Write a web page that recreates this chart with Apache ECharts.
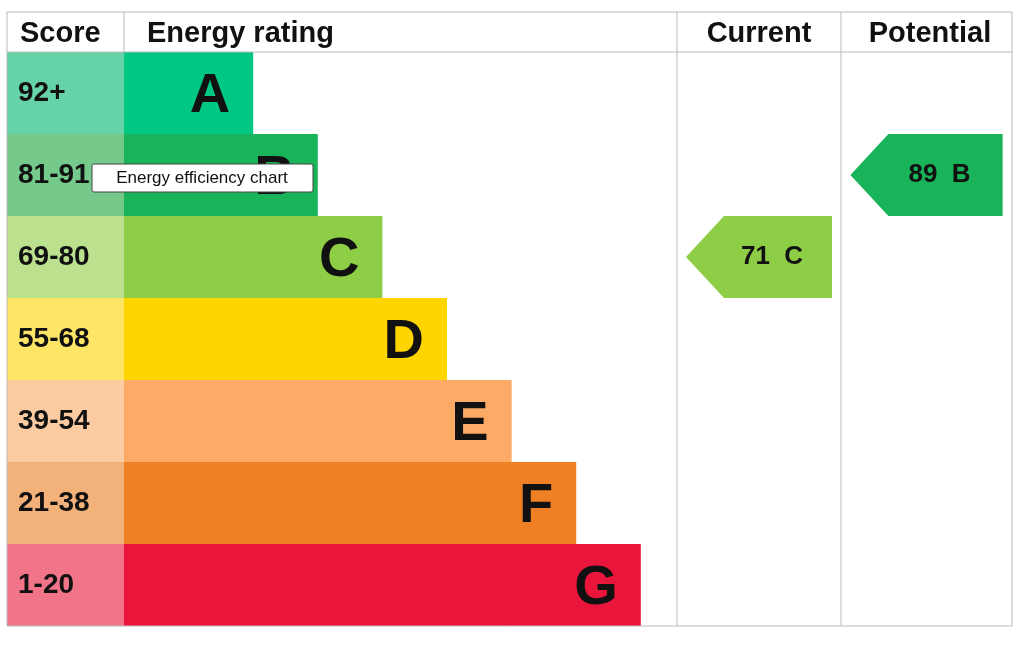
<!DOCTYPE html>
<html><head><meta charset="utf-8">
<script src="https://cdn.jsdelivr.net/npm/echarts@6/dist/echarts.min.js"></script>
<style>html,body{margin:0;padding:0;background:#fff}#c{width:1024px;height:648px}</style>
</head><body><div id="c"></div>
<script>
const bands = ['A','B','C','D','E','F','G'];
const scoreRanges = ['92+','81-91','69-80','55-68','39-54','21-38','1-20'];
const barUnits = [2,3,4,5,6,7,8];
const bandColors = ['#00c781','#19b459','#8dce46','#ffd500','#fcaa65','#ef8023','#e9153b'];
const scoreColors = ['#66d2a8','#75c98b','#bbe18f','#ffe566','#fdcba1','#f3b27a','#f27489'];
const currentScore = 71, currentBand = 'C';
const potentialScore = 89, potentialBand = 'B';

const chart = echarts.init(document.getElementById('c'));
const T=52,H=574;
const grids=[{left:7,top:T,width:117,height:H},{left:124,top:T,width:553,height:H},{left:677,top:T,width:164,height:H},{left:841,top:T,width:171,height:H}];
const xA=grids.map((g,i)=>({gridIndex:i,type:'value',min:0,max:i===1?8.56:1,show:false}));
const yA=grids.map((g,i)=>({gridIndex:i,type:'category',data:bands,inverse:true,show:false}));
function arrow(color){
  return function(params,api){
    const row=api.value(0);
    const cs=params.coordSys;
    const yc=api.coord([0,row])[1], h=api.size([0,1])[1];
    const x0=cs.x+cs.width*0.055, x1=cs.x+cs.width*0.945, tip=38;
    return {type:'group',children:[
      {type:'polygon',shape:{points:[[x0,yc],[x0+tip,yc-h/2],[x1,yc-h/2],[x1,yc+h/2],[x0+tip,yc+h/2]]},style:{fill:color}},
      {type:'text',style:{text:api.value(1)+'  '+api.value(2),x:(x0+tip+x1)/2-6,y:yc,align:'center',verticalAlign:'middle',font:'bold 26px Liberation Sans, Arial',fill:'#111'}}
    ]};
  };
}
const bi=b=>bands.indexOf(b);
chart.setOption({
  animation:false,
  grid:grids,xAxis:xA,yAxis:yA,
  series:[
    {type:'bar',xAxisIndex:0,yAxisIndex:0,barWidth:'100%',data:scoreRanges.map((s,i)=>({value:1,itemStyle:{color:scoreColors[i]},label:{show:true,position:'insideLeft',offset:[6,0],formatter:s,fontSize:28,fontWeight:'bold',color:'#111',fontFamily:'Liberation Sans, Arial'}}))},
    {type:'bar',xAxisIndex:1,yAxisIndex:1,barWidth:'100%',data:barUnits.map((u,i)=>({value:u,itemStyle:{color:bandColors[i]},label:{show:true,position:'insideRight',offset:[-18,4],formatter:bands[i],fontSize:56,fontWeight:'bold',color:'#111',fontFamily:'Liberation Sans, Arial'}}))},
    {type:'custom',xAxisIndex:2,yAxisIndex:2,data:[[bi(currentBand),currentScore,currentBand]],renderItem:arrow(bandColors[bi(currentBand)])},
    {type:'custom',xAxisIndex:3,yAxisIndex:3,data:[[bi(potentialBand),potentialScore,potentialBand]],renderItem:arrow(bandColors[bi(potentialBand)])}
  ],
  graphic:[
    {type:'rect',shape:{x:7,y:12,width:1005,height:614},style:{fill:'none',stroke:'#bbb',lineWidth:1},z:100},
    {type:'line',shape:{x1:7,y1:52,x2:1012,y2:52},style:{stroke:'#bbb'},z:100},
    {type:'line',shape:{x1:124,y1:12,x2:124,y2:52},style:{stroke:'#bbb'},z:100},
    {type:'line',shape:{x1:677,y1:12,x2:677,y2:626},style:{stroke:'#bbb'},z:100},
    {type:'line',shape:{x1:841,y1:12,x2:841,y2:626},style:{stroke:'#bbb'},z:100},
    {type:'text',x:20,y:34,style:{text:'Score',font:'bold 29px Liberation Sans, Arial',fill:'#111',verticalAlign:'middle'},z:100},
    {type:'text',x:147,y:34,style:{text:'Energy rating',font:'bold 29px Liberation Sans, Arial',fill:'#111',verticalAlign:'middle'},z:100},
    {type:'text',x:759,y:34,style:{text:'Current',font:'bold 29px Liberation Sans, Arial',fill:'#111',align:'center',verticalAlign:'middle'},z:100},
    {type:'text',x:930,y:34,style:{text:'Potential',font:'bold 29px Liberation Sans, Arial',fill:'#111',align:'center',verticalAlign:'middle'},z:100},
    {type:'rect',shape:{x:92,y:164,width:221,height:28,r:2},style:{fill:'#fff',stroke:'#444',lineWidth:1},z:200},
    {type:'text',x:202,y:178,style:{text:'Energy efficiency chart',font:'17px Liberation Sans, Arial',fill:'#111',align:'center',verticalAlign:'middle'},z:201}
  ]
});
</script></body></html>
